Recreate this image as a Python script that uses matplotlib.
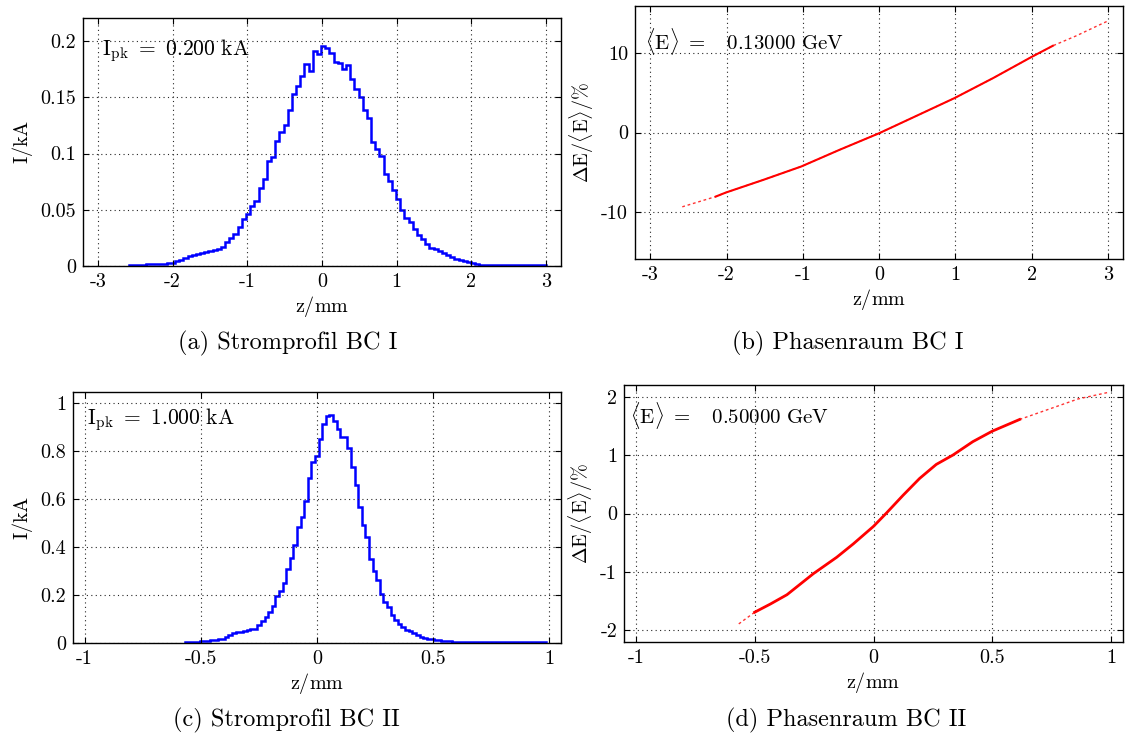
import numpy as np
import matplotlib.pyplot as plt
from matplotlib.ticker import FormatStrFormatter

plt.rcParams['font.family'] = 'serif'
plt.rcParams['font.serif'] = ['cmr10']
plt.rcParams['mathtext.fontset'] = 'cm'
plt.rcParams['axes.unicode_minus'] = False
plt.rcParams['axes.formatter.use_mathtext'] = True

# --- Stromprofil BC I (100 bins) ---
z1_min, z1_max = -2.58, 3.0
I1 = [0.0008, 0.0010, 0.0010, 0.0012, 0.0015, 0.0015, 0.0018, 0.0020, 0.0022, 0.0025,
      0.0030, 0.0042, 0.0050, 0.0075, 0.0085, 0.0095, 0.0105, 0.0112, 0.0122, 0.0132,
      0.0140, 0.0150, 0.0172, 0.0210, 0.0253, 0.0282, 0.0350, 0.0415, 0.0466, 0.0534,
      0.0578, 0.0697, 0.0771, 0.0934, 0.0970, 0.1107, 0.1187, 0.1252, 0.1388, 0.1528,
      0.1600, 0.1685, 0.1794, 0.1735, 0.1910, 0.1883, 0.1957, 0.1934, 0.1892, 0.1818,
      0.1809, 0.1750, 0.1785, 0.1660, 0.1570, 0.1507, 0.1388, 0.1314, 0.1103, 0.1044,
      0.0979, 0.0816, 0.0756, 0.0676, 0.0600, 0.0496, 0.0431, 0.0392, 0.0327, 0.0273,
      0.0238, 0.0193, 0.0164, 0.0149, 0.0133, 0.0113, 0.0098, 0.0084, 0.0066, 0.0053,
      0.0045, 0.0039, 0.0030, 0.0015, 0.0010, 0.0010, 0.0010, 0.0010, 0.0010, 0.0010,
      0.0010, 0.0010, 0.0010, 0.0010, 0.0010, 0.0010, 0.0010, 0.0010, 0.0010, 0.0010]

# --- Stromprofil BC II (100 bins) ---
z2_min, z2_max = -0.567, 0.984
I2 = [0.004, 0.005, 0.006, 0.006, 0.007, 0.009, 0.010, 0.011, 0.012, 0.015,
      0.018, 0.0235, 0.0318, 0.040, 0.045, 0.047, 0.050, 0.053, 0.057, 0.060,
      0.073, 0.090, 0.108, 0.131, 0.156, 0.194, 0.2145, 0.249, 0.309, 0.353,
      0.406, 0.485, 0.526, 0.591, 0.688, 0.752, 0.780, 0.848, 0.910, 0.946,
      0.949, 0.924, 0.889, 0.859, 0.859, 0.810, 0.734, 0.658, 0.568, 0.492,
      0.443, 0.350, 0.298, 0.263, 0.205, 0.170, 0.148, 0.118, 0.097, 0.079,
      0.065, 0.055, 0.048, 0.042, 0.035, 0.027, 0.021, 0.018, 0.016, 0.014,
      0.012, 0.010, 0.009, 0.007, 0.006, 0.004, 0.004, 0.004, 0.004, 0.004,
      0.004, 0.004, 0.004, 0.004, 0.004, 0.004, 0.004, 0.004, 0.004, 0.004,
      0.004, 0.004, 0.004, 0.004, 0.004, 0.004, 0.004, 0.004, 0.004, 0.004]

# --- Phasenraum BC I ---
zb = [-2.58, -2.14, -2.01, -1.52, -1.02, -0.52, 0.0, 0.49, 0.99, 1.50, 1.99, 2.28, 2.59, 2.80, 3.0]
dEb = [-9.4, -8.1, -7.6, -6.0, -4.3, -2.2, -0.1, 2.1, 4.35, 6.9, 9.5, 10.97, 12.24, 13.2, 14.1]

# --- Phasenraum BC II ---
zd = [-0.567, -0.5, -0.434, -0.364, -0.253, -0.155, -0.085, 0.0, 0.055, 0.124, 0.194,
      0.264, 0.334, 0.418, 0.5, 0.615, 0.685, 0.783, 0.86, 0.984]
dEd = [-1.89, -1.69, -1.55, -1.39, -1.03, -0.75, -0.52, -0.22, 0.01, 0.31, 0.6,
       0.84, 1.0, 1.23, 1.41, 1.61, 1.71, 1.85, 1.96, 2.07]

W, H = 1129, 736
fig = plt.figure(figsize=(W / 100, H / 100), dpi=100)

def box(l, t, r, b):
    return [l / W, 1 - b / H, (r - l) / W, (b - t) / H]

axa = fig.add_axes(box(83, 18, 561, 266))
axb = fig.add_axes(box(635, 6, 1123, 259))
axc = fig.add_axes(box(73, 392, 561, 643))
axd = fig.add_axes(box(624, 385, 1123, 642))

fs = 14.5

def style(ax):
    ax.grid(True, linestyle=(0, (1, 3)), color='0.15', linewidth=0.8)
    ax.tick_params(direction='in', top=True, right=True, length=4, width=0.8,
                   labelsize=fs, pad=5)
    for s in ax.spines.values():
        s.set_linewidth(1.0)
    ax.xaxis.set_major_formatter(FormatStrFormatter('%g'))
    ax.yaxis.set_major_formatter(FormatStrFormatter('%g'))
    ax.set_xlabel(r'$\mathrm{z/mm}$', fontsize=fs, labelpad=2)

# (a)
axa.stairs(I1, np.linspace(z1_min, z1_max, len(I1) + 1), color='blue', lw=1.8, baseline=0)
axa.set_xlim(-3.2, 3.2)
axa.set_ylim(0, 0.2205)
axa.set_xticks([-3, -2, -1, 0, 1, 2, 3])
axa.set_yticks([0, 0.05, 0.1, 0.15, 0.2])
style(axa)
axa.set_ylabel(r'$\mathrm{I/kA}$', fontsize=fs)
axa.text(0.039, 0.851, r'$\mathrm{I_{pk}\ =\ 0.200\ kA}$', transform=axa.transAxes,
         fontsize=15.5, va='baseline')

# (b)
zb = np.array(zb)
dEb = np.array(dEb)
axb.plot(zb, dEb, color='red', lw=1.0, ls=(0, (2, 2)), alpha=0.8)
core = (zb > -2.2) & (zb < 2.3)
axb.plot(zb[core], dEb[core], color='red', lw=1.5)
axb.set_xlim(-3.2, 3.2)
axb.set_ylim(-16, 16)
axb.set_xticks([-3, -2, -1, 0, 1, 2, 3])
axb.set_yticks([-10, 0, 10])
style(axb)
axb.set_ylabel(r'$\mathrm{\Delta E/\langle E\rangle/\%}$', fontsize=fs)
axb.text(0.021, 0.829, r'$\mathrm{\langle E\rangle\ =\ \ \ 0.13000\ GeV}$',
         transform=axb.transAxes, fontsize=15, va='baseline')

# (c)
axc.stairs(I2, np.linspace(z2_min, z2_max, len(I2) + 1), color='blue', lw=1.8, baseline=0)
axc.set_xlim(-1.05, 1.05)
axc.set_ylim(0, 1.045)
axc.set_xticks([-1, -0.5, 0, 0.5, 1])
axc.set_yticks([0, 0.2, 0.4, 0.6, 0.8, 1])
style(axc)
axc.set_ylabel(r'$\mathrm{I/kA}$', fontsize=fs)
axc.text(0.029, 0.870, r'$\mathrm{I_{pk}\ =\ 1.000\ kA}$', transform=axc.transAxes,
         fontsize=15.5, va='baseline')

# (d)
zd = np.array(zd)
dEd = np.array(dEd)
axd.plot(zd, dEd, color='red', lw=1.0, ls=(0, (2, 2)), alpha=0.8)
core = (zd > -0.52) & (zd < 0.65)
axd.plot(zd[core], dEd[core], color='red', lw=2.0)
axd.set_xlim(-1.05, 1.05)
axd.set_ylim(-2.2, 2.2)
axd.set_xticks([-1, -0.5, 0, 0.5, 1])
axd.set_yticks([-2, -1, 0, 1, 2])
style(axd)
axd.set_ylabel(r'$\mathrm{\Delta E/\langle E\rangle/\%}$', fontsize=fs)
axd.text(0.013, 0.850, r'$\mathrm{\langle E\rangle\ =\ \ \ 0.50000\ GeV}$',
         transform=axd.transAxes, fontsize=15, va='baseline')

# captions
cap = 17.5
fig.text(288 / W, 1 - 343 / H, '(a) Stromprofil BC I', ha='center', va='center', fontsize=cap)
fig.text(848 / W, 1 - 343 / H, '(b) Phasenraum BC I', ha='center', va='center', fontsize=cap)
fig.text(286 / W, 1 - 720 / H, '(c) Stromprofil BC II', ha='center', va='center', fontsize=cap)
fig.text(846 / W, 1 - 720 / H, '(d) Phasenraum BC II', ha='center', va='center', fontsize=cap)

fig.savefig('out.png', dpi=100)
